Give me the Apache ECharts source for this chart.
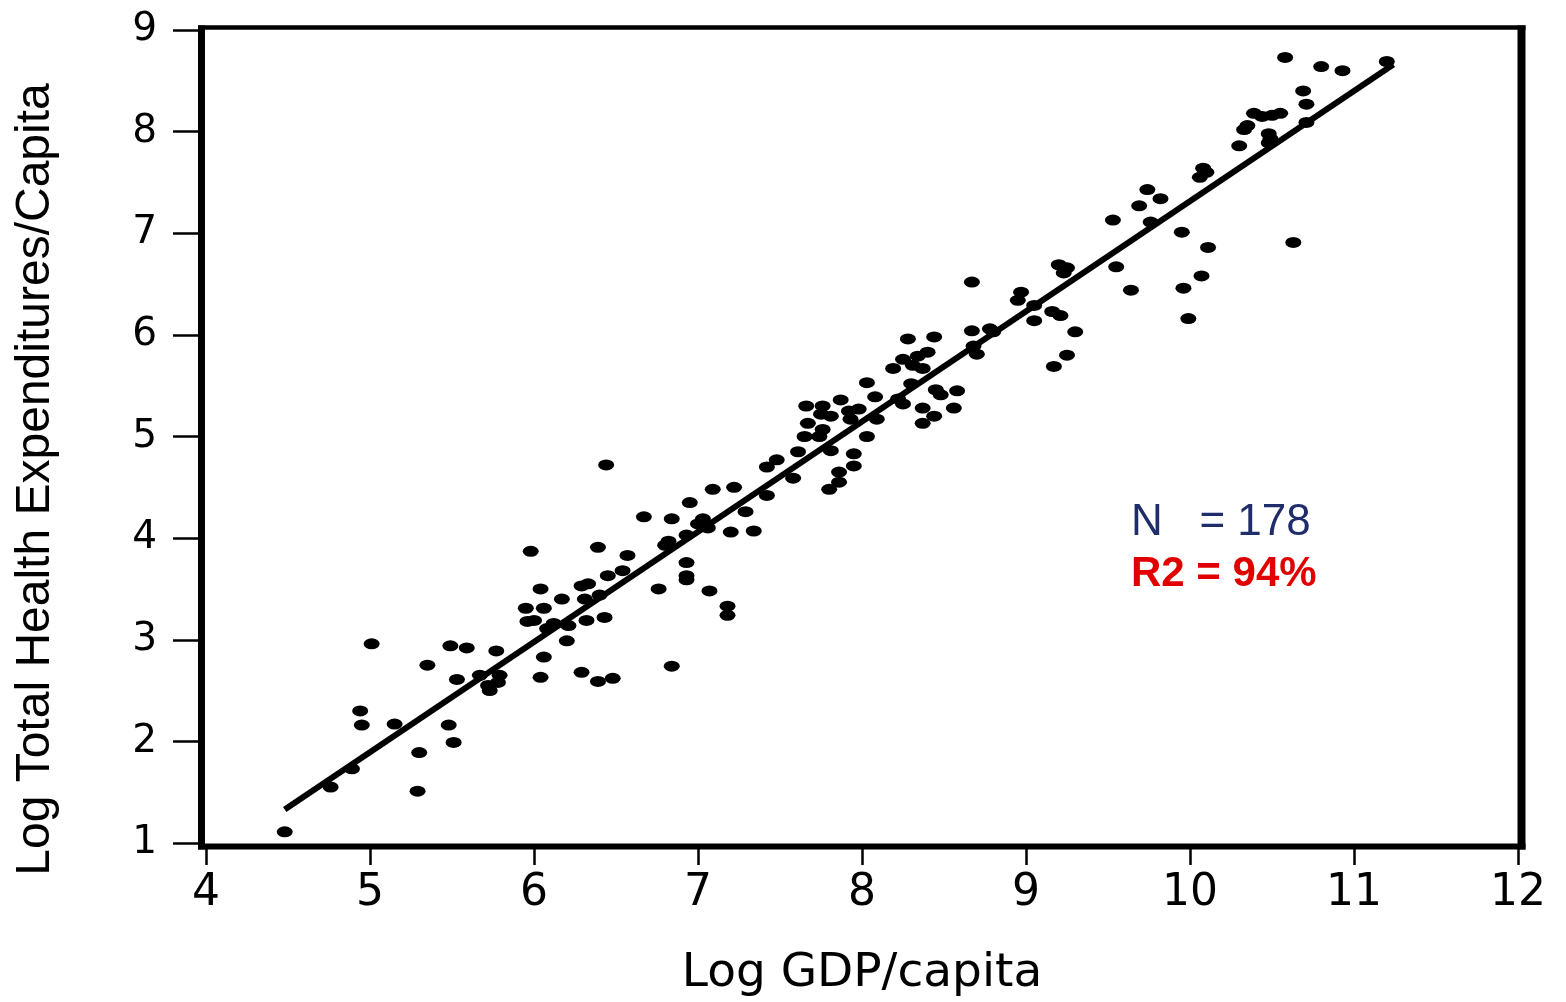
<!DOCTYPE html>
<html>
<head>
<meta charset="utf-8">
<script src="https://cdn.jsdelivr.net/npm/echarts@6/dist/echarts.min.js"></script>
<style>
html,body{margin:0;padding:0;background:#fff;}
#chart{width:1566px;height:1002px;}
</style>
</head>
<body>
<div id="chart"></div>
<script>
// Log GDP per capita (x) and log total health expenditures per capita (y)
const gdp = [
 4.48,4.76,4.89,4.94,4.95,5.01,5.15,5.29,5.30,5.35,5.48,5.49,5.51,5.53,5.59,5.67,5.73,5.72,5.77,5.78,5.79,
 5.95,6.06,5.96,6.00,6.08,6.12,6.21,6.32,6.43,6.20,6.06,6.04,6.29,6.39,6.48,6.04,6.17,6.31,6.40,6.29,6.33,6.45,6.54,
 5.98,6.39,6.57,6.44,6.67,6.84,6.95,7.09,7.22,7.03,7.00,7.06,6.93,6.82,6.80,6.93,6.93,6.93,6.76,7.07,7.18,7.18,6.84,
 7.20,7.34,7.29,7.42,7.42,7.48,7.58,7.61,
 7.80,7.86,7.86,7.95,7.95,7.81,8.03,7.74,7.65,7.76,7.67,7.66,7.76,7.75,7.81,7.87,7.92,7.98,7.93,8.09,8.08,8.03,
 8.19,8.25,8.28,8.44,8.34,8.40,8.31,8.37,8.30,8.22,8.25,8.37,8.44,8.37,8.45,8.48,8.58,8.56,8.67,8.68,8.70,
 8.67,8.78,8.80,8.95,8.97,9.05,9.05,9.16,9.21,9.30,9.25,9.17,9.20,9.25,9.23,9.55,9.64,9.95,10.11,10.07,9.96,9.99,
 10.58,10.80,10.93,11.20,10.69,10.71,10.71,10.39,10.44,10.50,10.55,10.35,10.33,10.48,10.49,10.48,10.30,
 10.08,10.10,10.06,9.74,9.82,9.69,9.53,9.76,10.63
];
const health = [
 1.11,1.55,1.73,2.30,2.16,2.96,2.17,1.51,1.89,2.75,2.16,2.94,1.99,2.61,2.92,2.65,2.50,2.55,2.89,2.58,2.65,
 3.31,3.31,3.18,3.19,3.11,3.16,3.14,3.19,3.22,2.99,2.83,2.63,2.68,2.59,2.62,3.50,3.40,3.40,3.44,3.53,3.55,3.63,3.68,
 3.87,3.91,3.83,4.72,4.21,4.19,4.35,4.48,4.50,4.19,4.14,4.10,4.03,3.97,3.93,3.76,3.63,3.59,3.50,3.48,3.33,3.24,2.74,
 4.06,4.07,4.26,4.42,4.70,4.77,4.59,4.85,
 4.48,4.55,4.65,4.71,4.83,4.86,5.00,5.00,5.00,5.07,5.13,5.30,5.30,5.22,5.20,5.36,5.25,5.27,5.17,5.17,5.39,5.53,
 5.67,5.76,5.96,5.98,5.79,5.83,5.70,5.67,5.52,5.37,5.32,5.28,5.20,5.13,5.46,5.41,5.45,5.28,6.04,5.89,5.81,
 6.52,6.06,6.03,6.34,6.42,6.29,6.14,6.23,6.19,6.03,5.80,5.69,6.69,6.66,6.61,6.67,6.44,7.01,6.86,6.58,6.46,6.16,
 8.73,8.64,8.60,8.69,8.40,8.27,8.09,8.18,8.15,8.16,8.18,8.06,8.02,7.98,7.93,7.89,7.86,
 7.64,7.60,7.55,7.43,7.34,7.27,7.13,7.11,6.91
];
// fitted regression line end points
const fitX = [4.48, 11.24];
const fitY = [1.33, 8.66];
// axis ranges
const xRange = [4, 12];
const yRange = [1, 9];
const xTitle = 'Log GDP/capita';
const yTitle = 'Log Total Health Expenditures/Capita';
const nText = 'N   = 178';
const r2Text = 'R2 = 94%';

const chart = echarts.init(document.getElementById('chart'), null, {renderer: 'canvas'});
const points = gdp.map((x, i) => [x, health[i]]);
const fitLine = fitX.map((x, i) => [x, fitY[i]]);

const option = {
  animation: false,
  backgroundColor: '#ffffff',
  grid: {left: 206, right: 48, top: 30, bottom: 156.5, containLabel: false},
  xAxis: {
    type: 'value', min: xRange[0], max: xRange[1], interval: 1, offset: 4,
    axisLine: {show: false},
    axisTick: {show: true, length: 18, lineStyle: {color: '#000', width: 2.5}},
    axisLabel: {margin: 25, fontFamily: 'DejaVu Sans', fontSize: 44, color: '#000'},
    splitLine: {show: false},
    name: xTitle, nameLocation: 'middle', nameGap: 103,
    nameTextStyle: {fontFamily: 'DejaVu Sans', fontSize: 47, color: '#000'}
  },
  yAxis: {
    type: 'value', min: yRange[0], max: yRange[1], interval: 1, offset: 4,
    axisLine: {show: false},
    axisTick: {show: true, length: 29, lineStyle: {color: '#000', width: 2.5}},
    axisLabel: {margin: 45, fontFamily: 'DejaVu Sans', fontSize: 39, color: '#000'},
    splitLine: {show: false},
    name: yTitle, nameLocation: 'middle', nameRotate: 90, nameGap: 142,
    nameTextStyle: {fontFamily: 'Liberation Sans', fontSize: 48, color: '#000', padding: [0, 86, 0, 0]}
  },
  series: [
    {
      type: 'scatter', data: points, symbol: 'circle', symbolSize: [16, 11],
      itemStyle: {color: '#000', opacity: 1}, z: 3
    },
    {
      type: 'line', data: fitLine, showSymbol: false, symbol: 'none',
      lineStyle: {color: '#000', width: 6, opacity: 1}, z: 4
    }
  ]
};
chart.setOption(option);

// frame around the plot area, derived from the axis extents
const tl = chart.convertToPixel({gridIndex: 0}, [xRange[0], yRange[1]]);
const br = chart.convertToPixel({gridIndex: 0}, [xRange[1], yRange[0]]);
const L = tl[0] - 4.5, T = tl[1] - 2.5, R = br[0] + 3.5, B = br[1] + 3.5;
chart.setOption({
  graphic: [
    {type: 'line', shape: {x1: L, y1: T - 2, x2: L, y2: B + 3}, style: {stroke: '#000', lineWidth: 7}, z: 10},
    {type: 'line', shape: {x1: L - 3.5, y1: B, x2: R + 4, y2: B}, style: {stroke: '#000', lineWidth: 6}, z: 10},
    {type: 'line', shape: {x1: L - 3.5, y1: T, x2: R + 4, y2: T}, style: {stroke: '#000', lineWidth: 4.5}, z: 10},
    {type: 'line', shape: {x1: R, y1: T - 2, x2: R, y2: B + 3}, style: {stroke: '#000', lineWidth: 8}, z: 10},
    {type: 'text', x: 1131, y: 523, style: {text: nText, font: '44px "Liberation Sans"', fill: '#1F2D6B', verticalAlign: 'middle', align: 'left'}, z: 10},
    {type: 'text', x: 1131, y: 574, style: {text: r2Text, font: 'bold 42px "Liberation Sans"', fill: '#E00000', verticalAlign: 'middle', align: 'left'}, z: 10}
  ]
});
</script>
</body>
</html>
